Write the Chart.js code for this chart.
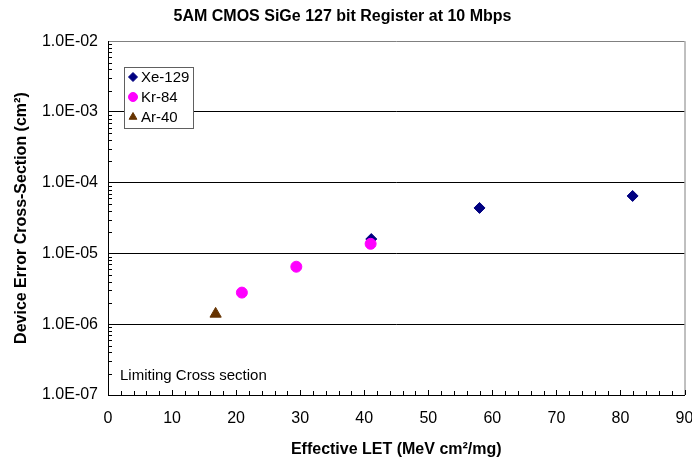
<!DOCTYPE html>
<html>
<head>
<meta charset="utf-8">
<script src="https://cdn.jsdelivr.net/npm/chart.js@4/dist/chart.umd.min.js"></script>
<style>
  html, body { margin: 0; padding: 0; background: #fff; }
  #wrap { width: 692px; height: 464px; }
</style>
</head>
<body>
<div id="wrap"><canvas id="c" width="692" height="464"></canvas></div>
<script>
// ====== DATA ======
const SERIES_NAMES = ["Xe-129", "Kr-84", "Ar-40"];
const XE_LET = [41.1, 58.0, 81.9];
const XE_XS = [1.6e-5, 4.4e-5, 6.5e-5];
const KR_LET = [20.9, 29.4, 41.0];
const KR_XS = [2.8e-6, 6.5e-6, 1.37e-5];
const AR_LET = [16.8];
const AR_XS = [1.4e-6];
const Y_TICKS = [1e-7, 1e-6, 1e-5, 1e-4, 1e-3, 1e-2];
const Y_TICK_LABELS = ["1.0E-07", "1.0E-06", "1.0E-05", "1.0E-04", "1.0E-03", "1.0E-02"];
// ==================

const FONT = "Arial, 'Liberation Sans', sans-serif";

function pts(xs, ys) {
  return xs.map((x, i) => ({ x: x, y: ys[i] }));
}

// minor ticks, right border, note text, legend box
const frame = {
  id: "frame",
  beforeDatasetsDraw(chart) {
    const { ctx, chartArea: a } = chart;
    const xs = chart.scales.x, ys = chart.scales.y;
    ctx.save();
    ctx.strokeStyle = "#808080";
    ctx.lineWidth = 1;
    ctx.beginPath();
    ctx.moveTo(a.right + 0.5, a.top);
    ctx.lineTo(a.right + 0.5, a.bottom);
    ctx.stroke();

    ctx.strokeStyle = "#000";
    ctx.beginPath();
    for (let v = 0; v <= 90; v += 2) {
      const px = Math.round(xs.getPixelForValue(v)) + 0.5;
      ctx.moveTo(px, a.bottom);
      ctx.lineTo(px, a.bottom - (v % 10 === 0 ? 5 : 4));
    }
    for (let d = -7; d < -2; d++) {
      for (let k = 2; k <= 9; k++) {
        const py = Math.round(ys.getPixelForValue(k * Math.pow(10, d))) + 0.5;
        ctx.moveTo(a.left, py);
        ctx.lineTo(a.left + 4, py);
      }
    }
    ctx.stroke();
    ctx.restore();
  },
  afterDraw(chart) {
    const { ctx, chartArea: a } = chart;
    ctx.save();
    ctx.font = "15px " + FONT;
    ctx.fillStyle = "#000";
    ctx.textBaseline = "middle";
    ctx.fillText("Limiting Cross section", a.left + 12, 376);

    // legend box
    const bx = 124, by = 67, bw = 69, bh = 61;
    ctx.fillStyle = "#fff";
    ctx.fillRect(bx, by, bw, bh);
    ctx.strokeStyle = "#606060";
    ctx.strokeRect(bx + 0.5, by + 0.5, bw, bh);
    chart.data.datasets.forEach((ds, i) => {
      const y = by + 10 + i * 20;
      ctx.fillStyle = ds.backgroundColor;
      ctx.strokeStyle = ds.borderColor;
      Chart.helpers.drawPoint(ctx, {
        pointStyle: ds.pointStyle,
        radius: 4.5,
        borderWidth: 1,
        rotation: 0
      }, bx + 9, y);
      ctx.fillStyle = "#000";
      ctx.fillText(ds.label, bx + 17, y + 1);
    });
    ctx.restore();
  }
};

new Chart(document.getElementById("c"), {
  type: "scatter",
  data: {
    datasets: [
      {
        label: SERIES_NAMES[0],
        data: pts(XE_LET, XE_XS),
        pointStyle: "rectRot",
        pointRadius: 5.5,
        backgroundColor: "#000080",
        borderColor: "#000080",
        borderWidth: 1,
        order: 2
      },
      {
        label: SERIES_NAMES[1],
        data: pts(KR_LET, KR_XS),
        pointStyle: "circle",
        pointRadius: 5.5,
        backgroundColor: "#FF00FF",
        borderColor: "#FF00FF",
        borderWidth: 1,
        order: 1
      },
      {
        label: SERIES_NAMES[2],
        data: pts(AR_LET, AR_XS),
        pointStyle: "triangle",
        pointRadius: 6.5,
        backgroundColor: "#663300",
        borderColor: "#663300",
        borderWidth: 1,
        order: 0
      }
    ]
  },
  options: {
    responsive: false,
    animation: false,
    devicePixelRatio: 1,
    layout: { padding: { left: 0, right: 7, top: 0, bottom: 0 } },
    plugins: {
      legend: { display: false },
      tooltip: { enabled: false },
      title: {
        display: true,
        text: "5AM CMOS SiGe 127 bit Register at 10 Mbps",
        color: "#000",
        font: { family: FONT, size: 16, weight: "bold" },
        padding: { top: 7, bottom: 15 }
      }
    },
    scales: {
      x: {
        type: "linear",
        min: 0,
        max: 90,
        afterFit(s) {
          s.height = 69;
          s.paddingLeft = 0;
          s.paddingRight = 0;
        },
        ticks: {
          stepSize: 10,
          color: "#000",
          padding: 14,
          maxRotation: 0,
          font: { family: FONT, size: 16 }
        },
        grid: { display: false, drawTicks: false },
        border: { display: true, color: "#000", width: 1 },
        title: {
          display: true,
          text: "Effective LET (MeV cm²/mg)",
          color: "#000",
          font: { family: FONT, size: 16, weight: "bold" },
          padding: { top: 0, bottom: 5 }
        }
      },
      y: {
        type: "logarithmic",
        min: 1e-7,
        max: 1e-2,
        afterFit(s) {
          s.width = 108;
          s.paddingTop = 0;
          s.paddingBottom = 0;
        },
        afterBuildTicks(s) {
          s.ticks = Y_TICKS.map(v => ({ value: v, major: true }));
        },
        ticks: {
          color: "#000",
          padding: 10,
          font: { family: FONT, size: 16 },
          callback: (v, i) => Y_TICK_LABELS[i]
        },
        grid: {
          drawTicks: false,
          color: c => (c.tick && c.tick.value === 1e-2 ? "#808080" : "#000"),
          lineWidth: 1
        },
        border: { display: true, color: "#000", width: 1 },
        title: {
          display: true,
          text: "Device Error Cross-Section (cm²)",
          color: "#000",
          font: { family: FONT, size: 16, weight: "bold" },
          padding: { top: 12, bottom: 0 }
        }
      }
    }
  },
  plugins: [frame]
});
</script>
</body>
</html>
